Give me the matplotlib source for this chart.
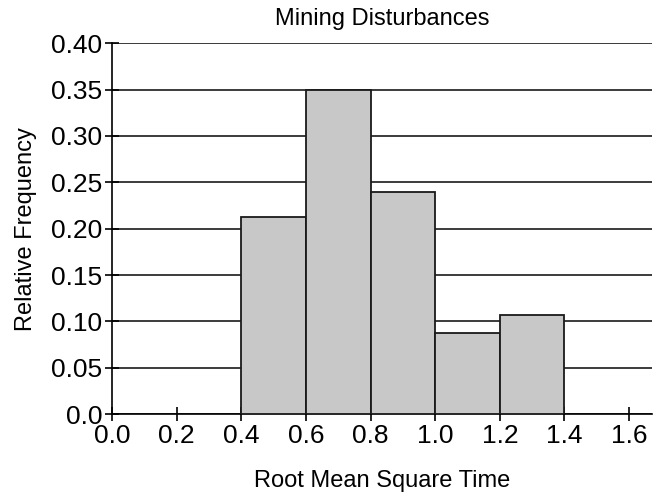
import matplotlib
matplotlib.use("Agg")
import matplotlib.pyplot as plt

plt.rcParams['font.family'] = ['Liberation Sans', 'DejaVu Sans']

# histogram bins and relative frequencies
bin_edges = [0.4, 0.6, 0.8, 1.0, 1.2, 1.4]
rel_freq = [0.213, 0.35, 0.240, 0.088, 0.107]
x_ticks = [0.0, 0.2, 0.4, 0.6, 0.8, 1.0, 1.2, 1.4, 1.6]
y_ticks = [0.0, 0.05, 0.10, 0.15, 0.20, 0.25, 0.30, 0.35, 0.40]
y_labels = ["0.0", "0.05", "0.10", "0.15", "0.20", "0.25", "0.30", "0.35", "0.40"]

fig = plt.figure(figsize=(6.63, 4.96), dpi=100)
ax = fig.add_axes([0.169, 0.165, 0.814, 0.748])

ax.set_axisbelow(True)
ax.yaxis.grid(True, color="#1a1a1a", linewidth=1.2)

lefts = bin_edges[:-1]
widths = [b - a for a, b in zip(bin_edges[:-1], bin_edges[1:])]
ax.bar(lefts, rel_freq, width=widths, align="edge",
       color="#c8c8c8", edgecolor="#1a1a1a", linewidth=1.3, zorder=3)

ax.set_xlim(0, 1.67)
ax.set_ylim(0, 0.40)
ax.set_xticks(x_ticks)
ax.set_xticklabels([f"{t:.1f}" for t in x_ticks])
ax.set_yticks(y_ticks)
ax.set_yticklabels(y_labels)

for s in ["top", "right"]:
    ax.spines[s].set_visible(False)
ax.spines["left"].set_linewidth(1.2)
ax.spines["bottom"].set_linewidth(1.2)
ax.tick_params(direction="inout", length=10, width=1.2, labelsize=19, pad=2)

ax.set_title("Mining Disturbances", fontsize=17, pad=13)
ax.set_xlabel("Root Mean Square Time", fontsize=17, labelpad=16)
ax.set_ylabel("Relative Frequency", fontsize=17, labelpad=10)

fig.savefig("out.png", dpi=100)
